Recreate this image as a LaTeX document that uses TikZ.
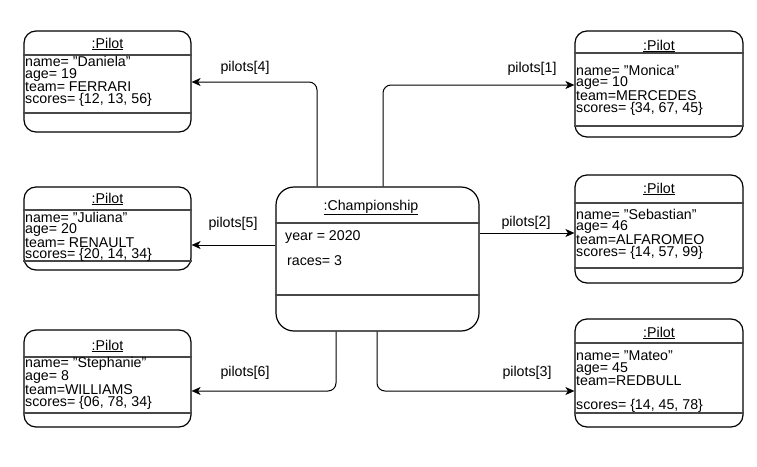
\documentclass[tikz,border=0pt]{standalone}
\usepackage{fontspec}
\setmainfont{Liberation Sans}
\usetikzlibrary{arrows.meta}
\newcommand{\fsz}{\fontsize{14.2}{11.2}\selectfont}
\tikzset{
  obj/.style={draw, line width=1.2pt, rounded corners=12pt, inner sep=0pt},
  div/.style={line width=1.3pt, draw=black!72},
  ttl/.style={font=\fsz, anchor=base, inner sep=0pt},
  attr/.style={font=\fsz, anchor=base west, align=left, inner sep=0pt},
  lbl/.style={font=\fsz, inner sep=0pt},
  conn/.style={line width=1pt, rounded corners=8pt, -{Stealth[length=9pt,width=8pt,inset=2.5pt]}},
}
\begin{document}
\begin{tikzpicture}[x=1pt,y=-1pt]
\useasboundingbox (0,0) rectangle (757,466);
% boxes
\node[obj, minimum width=167pt, minimum height=101pt] (p4) at (107.5,81.5) {};
\node[obj, minimum width=168pt, minimum height=106pt] (p1) at (659,84) {};
\node[obj, minimum width=167pt, minimum height=83pt] (p5) at (107.5,228.5) {};
\node[obj, minimum width=168pt, minimum height=108pt] (p2) at (659,229) {};
\node[obj, minimum width=167pt, minimum height=97pt] (p6) at (107.5,378.5) {};
\node[obj, minimum width=168pt, minimum height=108pt] (p3) at (659,373) {};
\node[obj, rounded corners=18pt, minimum width=203pt, minimum height=144pt] (champ) at (377.5,259) {};
% dividers
\draw[div] (p4.west |- 0,55) -- (p4.east |- 0,55);
\draw[div] (p4.west |- 0,113) -- (p4.east |- 0,113);
\draw[div] (p1.west |- 0,53) -- (p1.east |- 0,53);
\draw[div] (p1.west |- 0,126) -- (p1.east |- 0,126);
\draw[div] (p5.west |- 0,210) -- (p5.east |- 0,210);
\draw[div] (p5.west |- 0,261) -- (p5.east |- 0,261);
\draw[div] (p2.west |- 0,203) -- (p2.east |- 0,203);
\draw[div] (p2.west |- 0,268) -- (p2.east |- 0,268);
\draw[div] (p6.west |- 0,357) -- (p6.east |- 0,357);
\draw[div] (p6.west |- 0,413) -- (p6.east |- 0,413);
\draw[div] (p3.west |- 0,343) -- (p3.east |- 0,343);
\draw[div] (p3.west |- 0,413) -- (p3.east |- 0,413);
\draw[div] (champ.west |- 0,223) -- (champ.east |- 0,223);
\draw[div] (champ.west |- 0,295) -- (champ.east |- 0,295);
% titles
\node[ttl] (t4) at (107.5,48) {\underline{:Pilot}};
\node[ttl] (t1) at (659,50) {\underline{:Pilot}};
\node[ttl] (t5) at (107.5,203) {\underline{:Pilot}};
\node[ttl] (t2) at (659,193) {\underline{:Pilot}};
\node[ttl] (t6) at (107.5,350) {\underline{:Pilot}};
\node[ttl] (t3) at (659,337) {\underline{:Pilot}};
\node[ttl] (tc) at (371,210) {\underline{:Championship}};
% attributes (anchor = baseline of last line)
\node[attr] (a4) at (25,103) {name= "Daniela"\\age= 19\\team= FERRARI\\scores= \{12, 13, 56\}};
\node[attr] (a1) at (576,112) {name= "Monica"\\age= 10\\team=MERCEDES\\scores= \{34, 67, 45\}};
\node[attr] (a5) at (25,258.5) {name= "Juliana"\\age= 20\\team= RENAULT\\scores= \{20, 14, 34\}};
\node[attr] (a2) at (576,256) {name= "Sebastian"\\age= 46\\team=ALFAROMEO\\scores= \{14, 57, 99\}};
\node[attr] (a6) at (25,406) {name= "Stephanie"\\age= 8\\team=WILLIAMS\\scores= \{06, 78, 34\}};
\node[attr] (a3) at (576,409) {name= "Mateo"\\age= 45\\team=REDBULL\\[12pt]scores= \{14, 45, 78\}};
\node[attr] (cy) at (285,240) {year = 2020};
\node[attr] (cr) at (287,265) {races= 3};
% connectors
\draw[conn] (champ.north -| 317,0) |- (p4.east |- 0,82);
\draw[conn] (champ.north -| 383,0) |- (p1.west |- 0,85);
\draw[conn] (champ.west |- 0,245) -- (p5.east |- 0,245);
\draw[conn] (champ.east |- 0,233) -- (p2.west |- 0,233);
\draw[conn] (champ.south -| 336,0) |- (p6.east |- 0,391);
\draw[conn] (champ.south -| 377,0) |- (p3.west |- 0,391);
% labels
\node[lbl] (l4) at (245,68) {pilots[4]};
\node[lbl] (l1) at (532,69) {pilots[1]};
\node[lbl] (l5) at (233,224) {pilots[5]};
\node[lbl] (l2) at (526,223) {pilots[2]};
\node[lbl] (l6) at (245,373) {pilots[6]};
\node[lbl] (l3) at (527,373) {pilots[3]};
\end{tikzpicture}
\end{document}
